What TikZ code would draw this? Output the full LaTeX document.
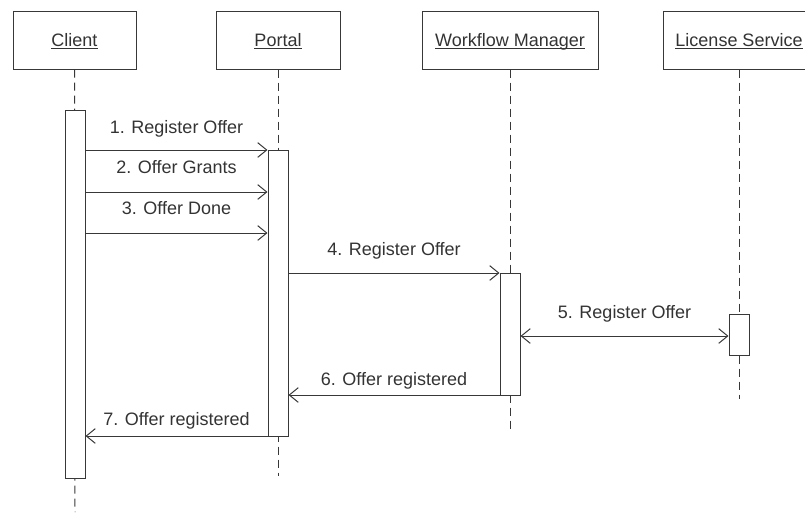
\documentclass[tikz,border=0pt]{standalone}
\usepackage{fontspec}
\setmainfont{Liberation Sans}
\usetikzlibrary{arrows.meta}
% underlined participant name with the rule close to the baseline
\newcommand\actname[1]{\setbox0\hbox{#1}\rlap{\rule[-1.6pt]{\wd0}{0.7pt}}\box0}
\begin{document}
\begin{tikzpicture}[x=0.75pt,y=-0.75pt,
  ink/.style={draw=black!78, line width=0.75pt},
  actor/.style={ink, rectangle, minimum height=43.5pt, inner sep=0pt,
    font=\fontsize{13.5}{16}\selectfont, text=black!80,
    text height=9.7pt, text depth=0pt},
  act/.style={ink, fill=white, rectangle, minimum width=15pt, inner sep=0pt},
  life/.style={ink, dash pattern=on 6pt off 3.75pt},
  msg/.style={ink, -{Straight Barb[length=6.75pt,width=11pt]}},
  lbl/.style={font=\fontsize{13.5}{16}\selectfont, text=black!80,
    anchor=base, inner sep=0pt}]
\useasboundingbox (0,0) rectangle (805,512);
\clip (0,0) rectangle (805,512);

% participants
\node[actor, minimum width=92.25pt] (client) at (74.5,40) {\actname{Client}};
\node[actor, minimum width=93pt]    (portal) at (278,40) {\actname{Portal}};
\node[actor, minimum width=132pt]   (wfm)    at (510,40) {\actname{Workflow Manager}};
\node[actor, minimum width=114pt]   (lic)    at (739,40) {\actname{License Service}};

% lifeline ends
\coordinate (clientEnd) at (75,512);
\coordinate (portalEnd) at (278,476);
\coordinate (wfmEnd)    at (510,431);
\coordinate (licEnd)    at (739,399);

\draw[life] (client.south) -- (clientEnd);
\draw[life] (portal.south) -- (portalEnd);
\draw[life] (wfm.south)    -- (wfmEnd);
\draw[life] (lic.south)    -- (licEnd);

% activation bars
\node[act, minimum height=276pt]   (clientAct) at (75,294)    {};
\node[act, minimum height=214.5pt] (portalAct) at (278,293)   {};
\node[act, minimum height=91.5pt]  (wfmAct)    at (510,334)   {};
\node[act, minimum height=30.75pt] (licAct)    at (739,334.5) {};

% message levels
\coordinate (m1) at (0,150);
\coordinate (m2) at (0,192);
\coordinate (m3) at (0,233);
\coordinate (m4) at (0,273);
\coordinate (m5) at (0,336);
\coordinate (m6) at (0,395);
\coordinate (m7) at (0,436);

\draw[msg] (clientAct.east |- m1) -- (portalAct.west |- m1)
  node[lbl, midway, yshift=12.75pt] {1. Register Offer};
\draw[msg] (clientAct.east |- m2) -- (portalAct.west |- m2)
  node[lbl, midway, yshift=13.9pt] {2. Offer Grants};
\draw[msg] (clientAct.east |- m3) -- (portalAct.west |- m3)
  node[lbl, midway, yshift=14.2pt] {3. Offer Done};
\draw[msg] (portalAct.east |- m4) -- (wfmAct.west |- m4)
  node[lbl, midway, yshift=13pt] {4. Register Offer};
\draw[msg, {Straight Barb[length=6.75pt,width=11pt]}-{Straight Barb[length=6.75pt,width=11pt]}]
  (wfmAct.east |- m5) -- (licAct.west |- m5)
  node[lbl, midway, yshift=13.5pt] {5. Register Offer};
\draw[msg] (wfmAct.west |- m6) -- (portalAct.east |- m6)
  node[lbl, midway, yshift=7.2pt] {6. Offer registered};
\draw[msg] (portalAct.west |- m7) -- (clientAct.east |- m7)
  node[lbl, midway, yshift=7.9pt] {7. Offer registered};
\end{tikzpicture}
\end{document}
